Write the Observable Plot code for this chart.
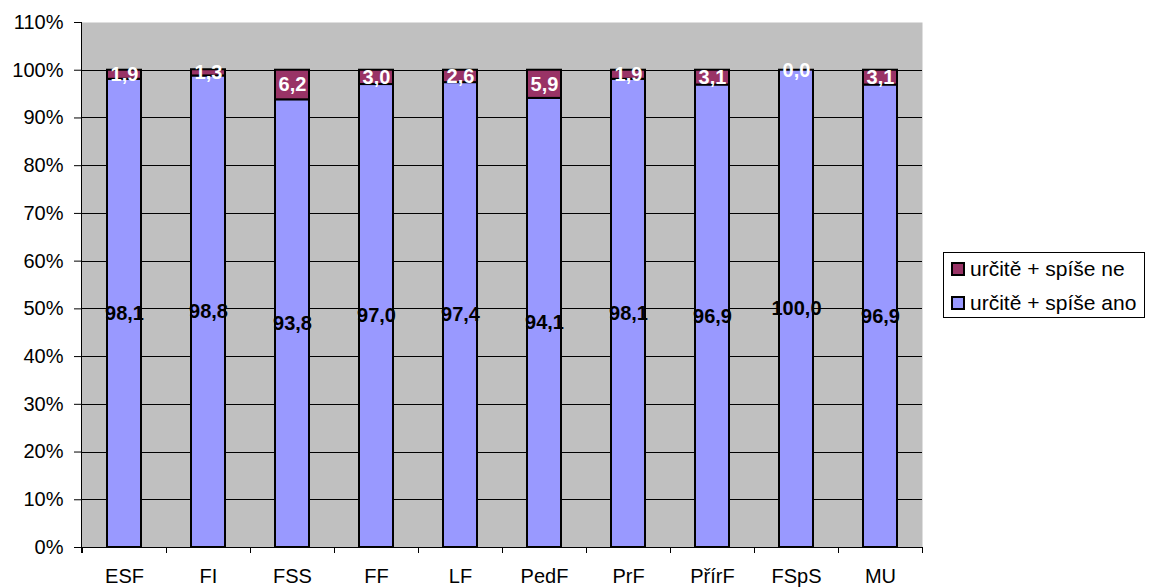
<!DOCTYPE html>
<html><head><meta charset="utf-8">
<script src="https://cdn.jsdelivr.net/npm/d3@7"></script>
<script src="https://cdn.jsdelivr.net/npm/@observablehq/plot@0.6"></script>
<style>
body{margin:0;background:#fff;font-family:"Liberation Sans",Arial,sans-serif;}
#wrap{position:relative;width:1150px;height:587px;overflow:hidden;}
#legend{position:absolute;left:943px;top:252px;width:202px;height:66px;border:1px solid #000;background:#fff;box-sizing:border-box;}
.row{position:absolute;left:7px;height:24px;display:flex;align-items:center;font-size:21px;color:#000;white-space:nowrap;line-height:24px;}
.sw{width:10px;height:10px;border:2px solid #000;margin-right:5px;flex:none;}
</style></head><body><div id="wrap"></div>
<script>
const categories = ["ESF", "FI", "FSS", "FF", "LF", "PedF", "PrF", "PřírF", "FSpS", "MU"];
const anoValues = [98.1, 98.8, 93.8, 97.0, 97.4, 94.1, 98.1, 96.9, 100.0, 96.9];
const neValues = [1.9, 1.3, 6.2, 3.0, 2.6, 5.9, 1.9, 3.1, 0.0, 3.1];
const seriesNames = ["určitě + spíše ano", "určitě + spíše ne"];
const seriesColors = ["#9999FF", "#993366"];
const labelColors = ["#000000", "#FFFFFF"];
const yTicks = [0, 10, 20, 30, 40, 50, 60, 70, 80, 90, 100, 110];
const gridTicks = [0, 10, 20, 30, 40, 50, 60, 70, 80, 90, 100];
const legendOrder = ["určitě + spíše ne", "určitě + spíše ano"];

const rows = [];
categories.forEach((c, i) => {
  rows.push({cat: c, series: seriesNames[0], value: anoValues[i]});
  rows.push({cat: c, series: seriesNames[1], value: neValues[i]});
});
const fmt = v => v.toFixed(1).replace(".", ",");

function boundaryMark(index, scales, values, dimensions) {
  const x = scales.x;
  const {width, height, marginLeft, marginRight, marginBottom, marginTop} = dimensions;
  const dom = categories;
  let step, bw;
  if (typeof x.step === "function") { step = x.step(); bw = x.bandwidth(); }
  else { step = (width - marginLeft - marginRight) / dom.length; bw = step * 0.4; }
  const pos = dom.map(d => x(d) - (step - bw) / 2);
  pos.push(pos[pos.length - 1] + step);
  const yb = height - marginBottom;
  const g = d3.create("svg:g").attr("stroke", "#000").attr("stroke-width", 1).attr("shape-rendering", "crispEdges");
  for (const p of pos) g.append("line").attr("x1", p).attr("x2", p).attr("y1", yb).attr("y2", yb + 6);
  g.append("line").attr("x1", marginLeft).attr("x2", marginLeft).attr("y1", marginTop).attr("y2", yb + 6);
  return g.node();
}

const chart = Plot.plot({
  width: 1150,
  height: 587,
  marginLeft: 81,
  marginRight: 228,
  marginTop: 22,
  marginBottom: 40,
  style: {fontFamily: "'Liberation Sans', Arial, sans-serif", fontSize: "20px", background: "transparent", color: "#000"},
  x: {domain: categories, paddingInner: 0.6, paddingOuter: 0.3, label: null, tickSize: 0, tickPadding: 21},
  y: {domain: [0, 110], ticks: yTicks, tickFormat: d => d + "%", tickSize: 7, tickPadding: 11, label: null},
  color: {domain: seriesNames, range: seriesColors},
  marks: [
    Plot.frame({fill: "#C0C0C0", stroke: "none"}),
    Plot.ruleY(gridTicks, {stroke: "#000", strokeWidth: 1, shapeRendering: "crispEdges"}),
    Plot.barY(rows, {x: "cat", y: "value", fill: "series", stroke: "#000", strokeWidth: 2}),
    Plot.text(rows, Plot.stackY({x: "cat", y: "value", z: "series", text: d => fmt(d.value),
      fill: d => labelColors[seriesNames.indexOf(d.series)], fontWeight: "bold", fontSize: 20})),
    boundaryMark
  ]
});

const wrap = document.getElementById("wrap");
wrap.appendChild(chart);
const legend = document.createElement("div");
legend.id = "legend";
legendOrder.forEach((name, i) => {
  const row = document.createElement("div");
  row.className = "row";
  row.style.top = (4 + i * 34) + "px";
  const sw = document.createElement("span");
  sw.className = "sw";
  sw.style.background = seriesColors[seriesNames.indexOf(name)];
  const t = document.createElement("span");
  t.textContent = name;
  row.appendChild(sw); row.appendChild(t);
  legend.appendChild(row);
});
wrap.appendChild(legend);
</script>
</body></html>
